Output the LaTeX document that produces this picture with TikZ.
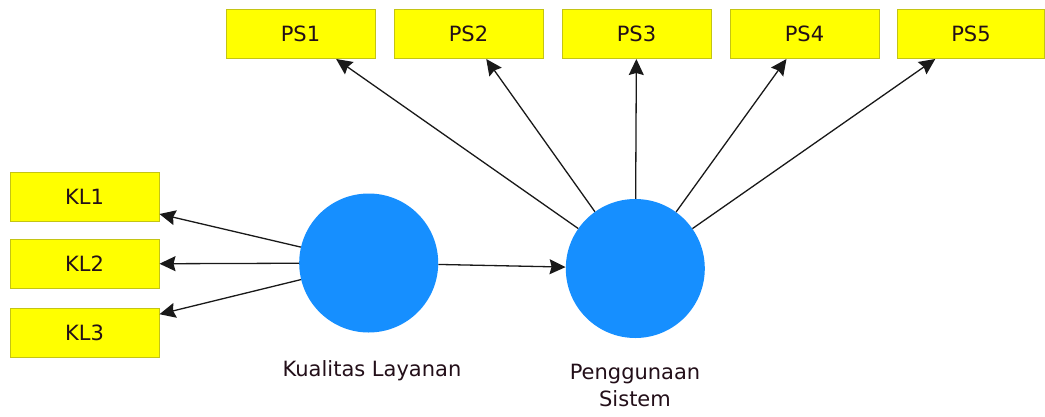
\documentclass[tikz,border=0pt]{standalone}
\usepackage{fontspec}
\setmainfont{DejaVu Sans}
\usetikzlibrary{arrows.meta}
\definecolor{boxfill}{RGB}{255,255,0}
\definecolor{boxline}{RGB}{196,196,20}
\definecolor{lvfill}{RGB}{22,143,255}
\definecolor{txt}{RGB}{35,15,25}
\tikzset{
  indbox/.style={draw=boxline, fill=boxfill, line width=1pt, minimum width=149pt, minimum height=49pt, inner sep=0pt, text=txt, font=\fontsize{21}{25}\selectfont},
  latent/.style={circle, fill=lvfill, draw=none, minimum size=139pt, inner sep=0pt},
  lbl/.style={inner sep=0pt, text=txt, font=\fontsize{21}{27}\selectfont, align=center},
  link/.style={draw=black!90, line width=1.3pt, -{Stealth[length=16pt,width=15pt,inset=2pt]}}
}
\begin{document}
\begin{tikzpicture}[x=1pt,y=-1pt]
\useasboundingbox (0,0) rectangle (1045,416);
\fill[white] (0,0) rectangle (1045,416);
% indicator boxes
\node[indbox] (ps1) at (300.5,34) {PS1};
\node[indbox] (ps2) at (468.5,34) {PS2};
\node[indbox] (ps3) at (636.5,34) {PS3};
\node[indbox] (ps4) at (804.5,34) {PS4};
\node[indbox, minimum width=147pt] (ps5) at (971,34) {PS5};
\node[indbox] (kl1) at (84.5,196.5) {KL1};
\node[indbox] (kl2) at (84.5,264) {KL2};
\node[indbox] (kl3) at (84.5,332.5) {KL3};
% latent variables
\node[latent] (kl) at (368.7,263) {};
\node[latent] (ps) at (635.3,268.5) {};
% labels
\node[lbl, anchor=base] (kllbl) at (372,376) {Kualitas Layanan};
\node[lbl, anchor=north] (pslbl) at (635,364) {Penggunaan\\Sistem};
% connectors
\draw[link] (kl) -- (kl1);
\draw[link] (kl) -- (kl2);
\draw[link] (kl) -- (kl3);
\draw[link] (kl) -- (ps);
\draw[link] (ps) -- (ps1);
\draw[link] (ps) -- (ps2);
\draw[link] (ps) -- (ps3);
\draw[link] (ps) -- (ps4);
\draw[link] (ps) -- (ps5);
\end{tikzpicture}
\end{document}
